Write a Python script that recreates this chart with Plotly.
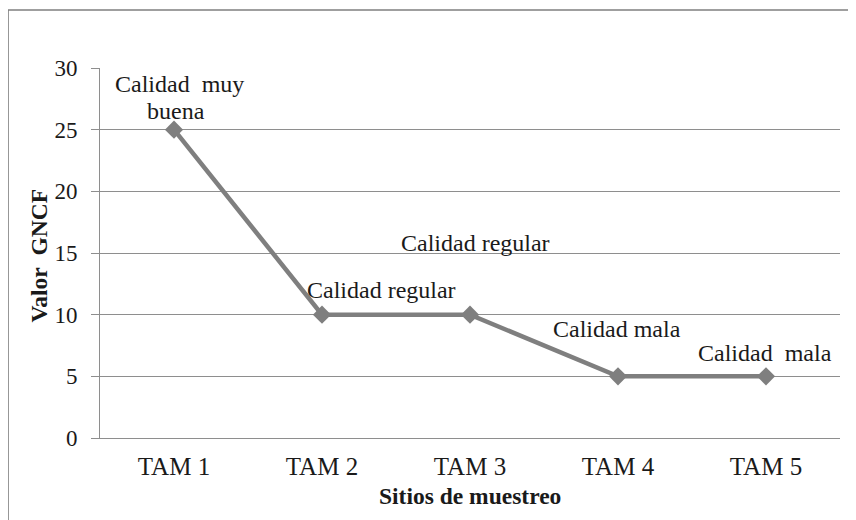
import plotly.graph_objects as go

sites = ["TAM 1", "TAM 2", "TAM 3", "TAM 4", "TAM 5"]
gncf = [25, 10, 10, 5, 5]
label_texts = ["Calidad\u00a0 muy", "buena", "Calidad regular", "Calidad regular", "Calidad mala", "Calidad\u00a0 mala"]
label_x = [0.035, 0.015, 1.405, 2.04, 2.99, 3.99]
label_y = [28.7, 26.55, 12.0, 15.8, 8.8, 6.9]
y_ticks = [0, 5, 10, 15, 20, 25, 30]

FONT = "Liberation Serif, Times New Roman, serif"
GRID = "#8e8e8e"
LINE = "#7f7f7f"
TXT = "#1a1a1a"

fig = go.Figure()
fig.add_trace(go.Scatter(
    x=sites, y=gncf, mode="lines+markers",
    line=dict(color=LINE, width=4.5),
    marker=dict(symbol="diamond", size=14, color=LINE),
    showlegend=False, hoverinfo="x+y",
))

for t, x, y in zip(label_texts, label_x, label_y):
    fig.add_annotation(x=x, y=y, xref="x", yref="y", text=t, showarrow=False,
                       font=dict(family=FONT, size=24, color=TXT),
                       xanchor="center", yanchor="middle", align="center")

# axis titles
fig.add_annotation(x=0.5, y=-0.157, xref="paper", yref="paper", text="<b>Sitios de muestreo</b>",
                   showarrow=False, font=dict(family=FONT, size=23.5, color=TXT),
                   xanchor="center", yanchor="middle")
fig.add_annotation(x=-0.083, y=0.492, xref="paper", yref="paper", text="<b>Valor\u00a0 GNCF</b>",
                   showarrow=False, textangle=-90, font=dict(family=FONT, size=23.5, color=TXT),
                   xanchor="center", yanchor="middle")

# outer frame
fig.add_shape(type="rect", xref="paper", yref="paper",
              x0=-0.1243, x1=1.05, y0=-0.3, y1=1.1568,
              line=dict(color="#808080", width=1.6), fillcolor="rgba(0,0,0,0)", layer="below")

fig.update_layout(
    width=856, height=520,
    margin=dict(l=92, r=24, t=60, b=90),
    paper_bgcolor="white", plot_bgcolor="white",
    font=dict(family=FONT, size=22, color=TXT),
)
fig.update_xaxes(type="category", categoryorder="array", categoryarray=sites,
                 range=[-0.5, 4.5], showgrid=False, showline=True, linecolor=GRID, linewidth=1,
                 ticks="", tickfont=dict(family=FONT, size=25, color=TXT), zeroline=False,
                 ticklabelstandoff=6)
fig.update_yaxes(range=[0, 30], tickvals=y_ticks, showgrid=True, gridcolor=GRID, gridwidth=1,
                 showline=True, linecolor=GRID, linewidth=1, ticks="outside", ticklen=8,
                 tickcolor=GRID, tickfont=dict(family=FONT, size=23, color=TXT), zeroline=False,
                 ticklabelstandoff=9)

fig.write_html("out.html")
